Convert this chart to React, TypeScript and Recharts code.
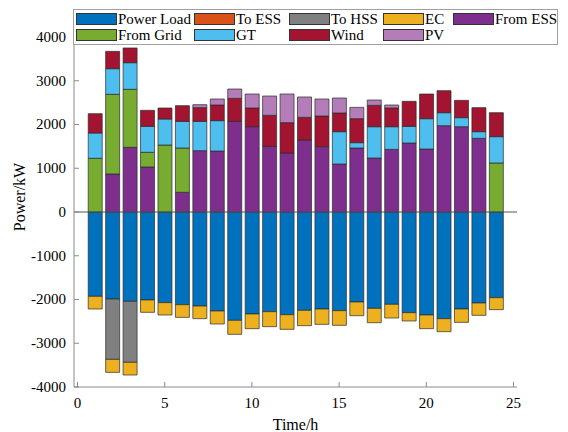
import React from 'react';
import { BarChart, Bar, XAxis, YAxis, ReferenceLine } from 'recharts';

const hours = [1, 2, 3, 4, 5, 6, 7, 8, 9, 10, 11, 12, 13, 14, 15, 16, 17, 18, 19, 20, 21, 22, 23, 24];

const powerLoad = [-1928, -1989, -2042, -2011, -2072, -2118, -2149, -2263, -2476, -2331, -2278, -2347, -2248, -2217, -2255, -2057, -2202, -2110, -2301, -2354, -2438, -2217, -2080, -1958];
const toESS = [0, 0, 0, 0, 0, 0, 0, 0, 0, 0, 0, 0, 0, 0, 0, 0, 0, 0, 0, 0, 0, 0, 0, 0];
const toHSS = [0, -1379, -1394, 0, 0, 0, 0, 0, 0, 0, 0, 0, 0, 0, 0, 0, 0, 0, 0, 0, 0, 0, 0, 0];
const ec = [-289, -297, -290, -282, -282, -290, -289, -297, -320, -336, -343, -335, -350, -351, -335, -313, -328, -313, -190, -313, -297, -305, -282, -274];
const fromESS = [0, 869, 1478, 1029, 0, 450, 1402, 1394, 2072, 1950, 1501, 1349, 1646, 1493, 1097, 1463, 1234, 1432, 1577, 1440, 1973, 1950, 1684, 0];
const fromGrid = [1227, 1821, 1326, 335, 1531, 1013, 0, 0, 0, 0, 0, 0, 0, 0, 0, 0, 0, 0, 0, 0, 0, 0, 0, 1120];
const gt = [579, 586, 609, 594, 595, 609, 670, 694, 0, 0, 0, 0, 0, 0, 739, 122, 716, 518, 381, 693, 297, 206, 152, 602];
const wind = [441, 396, 336, 366, 251, 358, 313, 358, 526, 427, 709, 693, 518, 701, 427, 548, 488, 427, 572, 564, 503, 396, 549, 548];
const pv = [0, 0, 0, 0, 0, 0, 68, 137, 213, 320, 441, 655, 465, 389, 343, 259, 122, 69, 0, 0, 0, 0, 0, 0];

const seriesNames = ['Power Load', 'To ESS', 'To HSS', 'EC', 'From ESS', 'From Grid', 'GT', 'Wind', 'PV'];
const seriesColors = ['#0072BD', '#D95319', '#808080', '#EDB120', '#7E2F8E', '#77AC30', '#4DBEEE', '#A2142F', '#B47CB9'];
const seriesValues = [powerLoad, toESS, toHSS, ec, fromESS, fromGrid, gt, wind, pv];

const xTicks = [0, 5, 10, 15, 20, 25];
const yTicks = [-4000, -3000, -2000, -1000, 0, 1000, 2000, 3000, 4000];

const data = hours.map((h, i) => {
  const row: Record<string, number> = { hour: h };
  seriesNames.forEach((n, k) => {
    row[n] = seriesValues[k][i];
  });
  return row;
});

const FONT = '"Liberation Serif", "Times New Roman", Times, serif';
const AXIS = '#8a8a8a';
const txtStyle = { fontFamily: FONT };

const LeftTick = (props: any) => {
  const { x, y, payload } = props;
  const ax = x + 8;
  return (
    <g>
      <text x={x} y={y} dy="0.33em" textAnchor="end" fontSize={15} style={txtStyle} fill="#000">
        {payload.value}
      </text>
      <line x1={ax} x2={ax + 5} y1={y} y2={y} stroke={AXIS} />
    </g>
  );
};

const RightTick = (props: any) => {
  const { x, y } = props;
  return <line x1={x} x2={x - 5} y1={y} y2={y} stroke={AXIS} />;
};

const BottomTick = (props: any) => {
  const { x, y, payload } = props;
  const ay = y - 10;
  return (
    <g>
      <text x={x} y={y} dy="0.75em" textAnchor="middle" fontSize={15} style={txtStyle} fill="#000">
        {payload.value}
      </text>
      <line x1={x} x2={x} y1={ay} y2={ay - 5} stroke={AXIS} />
    </g>
  );
};

const YTitle = () => (
  <text transform="translate(25,197) rotate(-90)" textAnchor="middle" fontSize={16} style={txtStyle} fill="#000">
    Power/kW
  </text>
);

const XTitle = (props: any) => {
  const vb = props.viewBox || { x: 74, y: 387, width: 443, height: 45 };
  return (
    <text x={vb.x + vb.width / 2} y={430} textAnchor="middle" fontSize={16} style={txtStyle} fill="#000">
      Time/h
    </text>
  );
};

const legendCols = [76, 194, 289, 383, 453];
const legendRowTops = [11, 27];

const LegendBox = () => (
  <div
    style={{
      position: 'absolute',
      left: 73,
      top: 9,
      width: 485,
      height: 36,
      boxSizing: 'border-box',
      border: '1px solid #a0a0a0',
      background: '#fff',
    }}
  >
    {seriesNames.map((name, i) => {
      const row = i < 5 ? 0 : 1;
      const col = i < 5 ? i : i - 5;
      return (
        <div
          key={name}
          style={{
            position: 'absolute',
            left: legendCols[col] - 74,
            top: legendRowTops[row] - 10,
            height: 16,
            display: 'flex',
            alignItems: 'center',
            whiteSpace: 'nowrap',
            fontFamily: FONT,
            fontSize: 15,
            lineHeight: '16px',
            color: '#000',
          }}
        >
          <span
            style={{
              display: 'inline-block',
              width: 41,
              height: 12,
              boxSizing: 'border-box',
              background: seriesColors[i],
              border: '1px solid #333',
              marginRight: 1,
            }}
          />
          <span>{name}</span>
        </div>
      );
    })}
  </div>
);

export default function App() {
  return (
    <div
      style={{
        position: 'absolute',
        left: 0,
        top: 0,
        width: 568,
        height: 432,
        background: '#fff',
        fontFamily: FONT,
      }}
    >
      <BarChart
        width={568}
        height={432}
        data={data}
        stackOffset="sign"
        barSize={14}
        margin={{ top: 37, right: 51, bottom: 0, left: 0 }}
        style={{ fontFamily: FONT }}
      >
        <XAxis
          dataKey="hour"
          type="number"
          domain={[-0.2, 25.2]}
          ticks={xTicks}
          height={45}
          tickSize={0}
          tickMargin={10}
          tick={<BottomTick />}
          axisLine={{ stroke: AXIS }}
          tickLine={false}
          label={<XTitle />}
        />
        <YAxis
          type="number"
          domain={[-4000, 4000]}
          ticks={yTicks}
          width={74}
          tickSize={0}
          tickMargin={8}
          tick={<LeftTick />}
          axisLine={{ stroke: AXIS }}
          tickLine={false}
          label={<YTitle />}
        />
        <YAxis
          yAxisId="right"
          orientation="right"
          type="number"
          domain={[-4000, 4000]}
          ticks={yTicks}
          width={0}
          tickSize={0}
          tickMargin={0}
          tick={<RightTick />}
          axisLine={{ stroke: AXIS }}
          tickLine={false}
        />
        {seriesNames.map((name, i) => (
          <Bar
            key={name}
            dataKey={name}
            stackId="a"
            fill={seriesColors[i]}
            stroke="#2b2b2b"
            strokeWidth={0.7}
            isAnimationActive={false}
          />
        ))}
        <ReferenceLine y={0} stroke="#555" strokeWidth={1} />
      </BarChart>
      <LegendBox />
    </div>
  );
}
